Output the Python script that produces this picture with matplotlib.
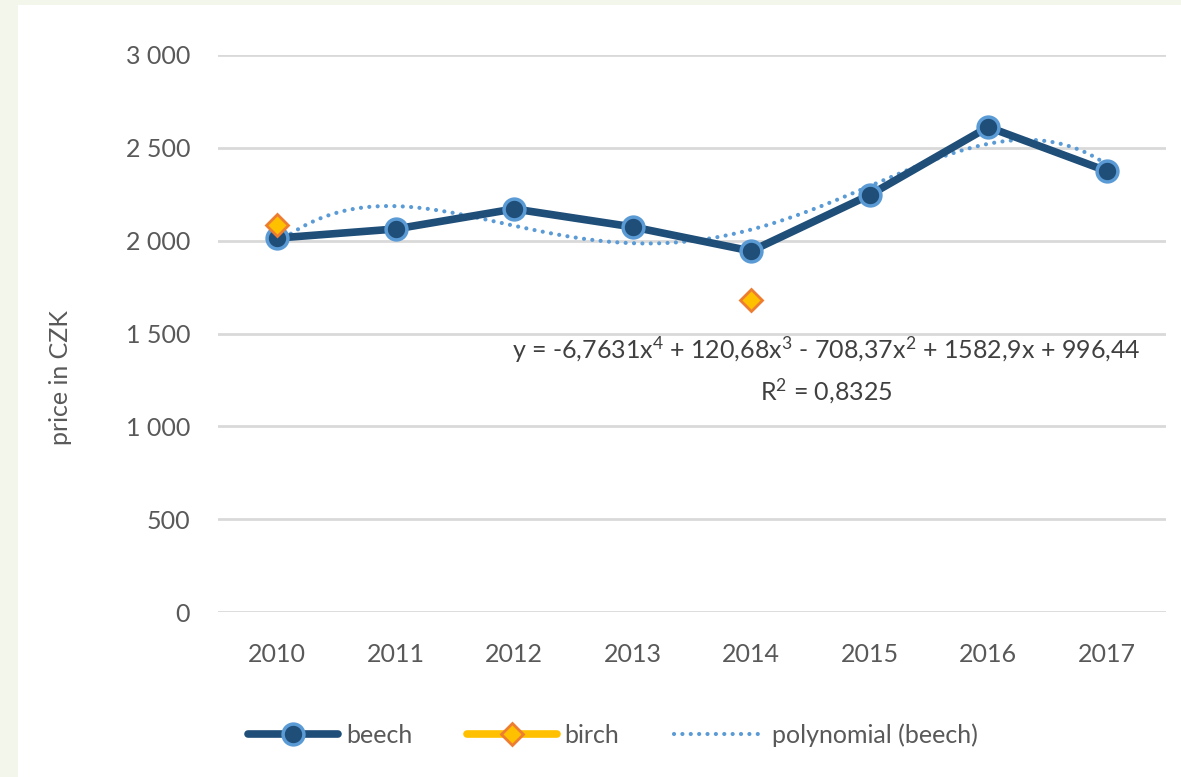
import numpy as np
import matplotlib.pyplot as plt
from matplotlib.patches import Rectangle

years = ['2010', '2011', '2012', '2013', '2014', '2015', '2016', '2017']
beech = [2014, 2063, 2171, 2074, 1944, 2246, 2612, 2375]
birch = [2084, np.nan, np.nan, np.nan, 1680, np.nan, np.nan, np.nan]
# trendline coefficients as printed on the chart (x = 1..8)
poly_coef = [-6.7631, 120.68, -708.37, 1582.9, 996.44]
eq_text = ('y = -6,7631x$^{4}$ + 120,68x$^{3}$ - 708,37x$^{2}$ + 1582,9x + 996,44\n'
           'R$^{2}$ = 0,8325')

plt.rcParams['font.family'] = ['Lato', 'DejaVu Sans']
plt.rcParams['font.size'] = 18
plt.rcParams['mathtext.fontset'] = 'custom'
plt.rcParams['mathtext.rm'] = 'Lato'
plt.rcParams['mathtext.it'] = 'Lato'
plt.rcParams['mathtext.default'] = 'rm'

fig = plt.figure(figsize=(11.81, 7.77), dpi=100, facecolor='#f3f6ea')
fig.patches.append(Rectangle((18 / 1181, 0), 1, 1 - 5 / 777, transform=fig.transFigure,
                             facecolor='white', edgecolor='none', zorder=-10))
ax = fig.add_axes([218 / 1181, 1 - 612 / 777, (1166 - 218) / 1181, (612 - 55) / 777])
ax.set_zorder(1)
ax.set_facecolor('white')

x = np.arange(1, len(years) + 1)
xs = np.linspace(1, len(years), 300)
ax.plot(xs, np.polyval(poly_coef, xs), color='#5b9bd5', lw=3, ls=(0, (0.01, 2.0)),
        dash_capstyle='round', label='polynomial (beech)', zorder=2)
ax.plot(x, beech, color='#1f4e79', lw=5.5, marker='o', ms=15, mfc='#1f4e79',
        mec='#5b9bd5', mew=2.5, label='beech', zorder=3, solid_capstyle='round')
ax.plot(x, birch, color='#ffc000', lw=5.5, marker='D', ms=11, mfc='#ffc000',
        mec='#ed7d31', mew=2, label='birch', zorder=4, solid_capstyle='round')

ax.set_xlim(0.5, len(years) + 0.5)
ax.set_ylim(0, 3000)
ax.set_xticks(x)
ax.set_xticklabels(years)
ax.set_yticks(range(0, 3001, 500))
ax.set_yticklabels([f'{v:,}'.replace(',', ' ') for v in range(0, 3001, 500)])
ax.tick_params(length=0, colors='#595959', labelsize=18)
ax.tick_params(axis='x', pad=22)
ax.tick_params(axis='y', pad=20)
ax.grid(axis='y', color='#d9d9d9', lw=2)
ax.set_axisbelow(True)
for s in ax.spines.values():
    s.set_visible(False)
ax.set_ylabel('price in CZK', color='#595959', fontsize=18)
ax.yaxis.set_label_coords(-0.154, 0.42)

ax.text(5.63, 1303, eq_text, ha='center', va='center', color='#404040',
        fontsize=18, linespacing=1.5)

handles, labels = ax.get_legend_handles_labels()
order = [1, 2, 0]
fig.legend([handles[i] for i in order], [labels[i] for i in order],
           loc='center', bbox_to_anchor=(613 / 1181, 1 - 735 / 777), ncol=3,
           frameon=False, handlelength=3.6, columnspacing=2.2, handletextpad=0.3,
           labelcolor='#595959', fontsize=18)

fig.savefig('out.png', dpi=100, facecolor=fig.get_facecolor())
